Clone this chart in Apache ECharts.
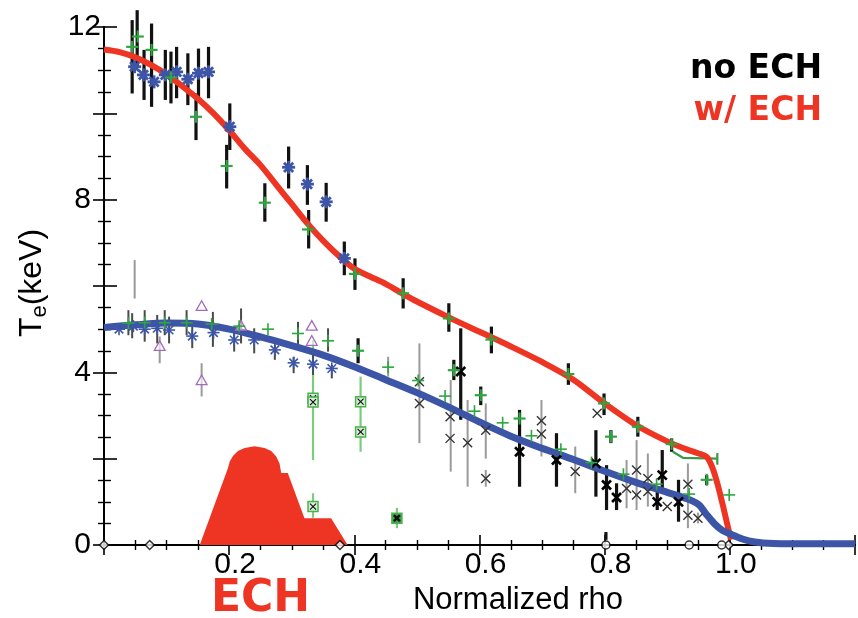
<!DOCTYPE html>
<html><head><meta charset="utf-8">
<script src="https://cdn.jsdelivr.net/npm/echarts@6/dist/echarts.min.js"></script>
<style>html,body{margin:0;padding:0;background:#fff}#c{width:858px;height:618px}</style>
</head><body><div id="c"></div>
<script>
// ---- axis ticks ----
const xTickLabels = [0.2, 0.4, 0.6, 0.8, 1.0];
const yTickLabels = [0, 4, 8, 12];

// ---- model profiles ----
const redCurve = [[0,11.48],[0.025,11.42],[0.05,11.3],[0.075,11.12],[0.1,10.9],[0.125,10.63],[0.15,10.34],[0.175,10.0],[0.2,9.61],[0.225,9.18],[0.25,8.8],[0.275,8.35],[0.3,7.9],[0.325,7.45],[0.35,7.05],[0.375,6.7],[0.4,6.4],[0.425,6.22],[0.45,6.05],[0.475,5.84],[0.5,5.64],[0.55,5.28],[0.6,4.94],[0.65,4.6],[0.7,4.24],[0.75,3.83],[0.8,3.28],[0.85,2.78],[0.9,2.4],[0.93,2.22],[0.95,2.12],[0.963,2.04],[0.972,1.8],[0.98,1.43],[0.99,0.85],[0.998,0.35],[1.002,0.12]];
const blueCurve = [[0,5.04],[0.05,5.1],[0.1,5.14],[0.15,5.12],[0.2,5.0],[0.25,4.82],[0.3,4.62],[0.35,4.4],[0.4,4.13],[0.45,3.83],[0.5,3.53],[0.55,3.2],[0.6,2.85],[0.65,2.52],[0.7,2.24],[0.75,1.98],[0.8,1.71],[0.85,1.45],[0.9,1.22],[0.93,1.08],[0.95,0.94],[0.962,0.72],[0.975,0.5],[0.988,0.34],[1.0,0.26],[1.02,0.14],[1.04,0.07],[1.07,0.035],[1.1,0.03],[1.2,0.03]];
const echProfile = [[0.153,0],[0.198,1.78],[0.2008,1.93],[0.206,2.06],[0.214,2.18],[0.2247,2.25],[0.2406,2.29],[0.2566,2.25],[0.2672,2.18],[0.2752,2.05],[0.2805,1.89],[0.2832,1.67],[0.2937,1.67],[0.3203,0.62],[0.3629,0.62],[0.3893,0]];

// ---- error bars [x, low, high] ----
const ebBlack = [[0.045,10.46,12.16],[0.053,11.08,12.39],[0.064,10.31,11.47],[0.076,10.15,12.08],[0.098,10.31,11.47],[0.107,10.23,11.43],[0.116,10.35,11.54],[0.134,10.19,11.39],[0.151,10.35,11.5],[0.147,9.38,10.46],[0.167,10.35,11.54],[0.201,9.15,10.23],[0.196,8.26,9.27],[0.257,7.49,8.38],[0.295,8.26,9.23],[0.325,7.88,8.8],[0.327,6.87,7.76],[0.355,7.49,8.39],[0.384,6.25,7.03],[0.401,5.91,6.64],[0.478,5.48,6.18],[0.551,4.94,5.6],[0.619,4.44,5.06],[0.742,3.71,4.21],[0.799,3.01,3.51],[0.853,2.51,2.97],[0.907,2.16,2.47],[0.81,2.36,2.66],[0.963,1.39,1.62],[0.406,4.21,4.79],[0.559,3.82,4.29],[0.57,2.9,5.02],[0.602,3.24,3.67],[0.664,1.35,3.13],[0.723,1.35,2.59],[0.786,1.12,2.66],[0.803,0.81,1.85],[0.819,0.81,1.43],[0.884,0.81,1.35],[0.892,1.2,2.2],[0.918,0.54,1.51],[0.802,0.12,0.3]];
const ebDark = [[0.039,4.86,5.44],[0.045,4.79,5.37],[0.065,4.71,5.44],[0.085,4.67,5.33],[0.097,4.86,5.44],[0.104,4.67,5.29],[0.132,4.86,5.44],[0.141,4.56,5.14],[0.174,4.59,5.4],[0.208,4.48,5.06],[0.219,4.67,5.48],[0.24,4.44,5.02],[0.273,4.29,4.63],[0.31,4.63,5.17],[0.303,3.98,4.36],[0.334,3.94,4.44],[0.358,4.48,5.02],[0.364,3.86,4.17]];
const ebGray = [[0.049,5.71,6.6],[0.089,4.21,4.83],[0.156,3.44,4.21],[0.454,3.9,4.36],[0.504,2.36,4.67],[0.554,1.7,3.82],[0.581,1.35,3.36],[0.61,2.0,3.28],[0.61,1.35,1.74],[0.699,2.05,3.36],[0.753,1.2,2.28],[0.835,0.85,1.97],[0.851,0.81,2.43],[0.869,0.89,2.12],[0.933,0.39,1.89],[0.949,0.5,0.75]];
const ebGreen = [[0.334,1.97,4.75],[0.334,0.63,1.2],[0.41,2.16,3.9],[0.468,0.39,0.86]];
const hBarGreen = [[0.909,2.16],[0.925,2.02],[0.98,2.0]];
const hBarCap = [[0.98,1.86,2.13]];

// ---- data markers [x, y] ----
const starsBold = [[0.049,11.08],[0.063,10.89],[0.08,10.73],[0.098,10.89],[0.116,10.96],[0.134,10.79],[0.151,10.93],[0.167,10.96],[0.201,9.69],[0.295,8.75],[0.325,8.36],[0.355,7.95],[0.384,6.64]];
const starsThin = [[0.024,5.0],[0.047,5.07],[0.065,5.0],[0.085,5.02],[0.104,4.98],[0.141,4.84],[0.175,4.92],[0.208,4.75],[0.24,4.75],[0.273,4.52],[0.303,4.22],[0.334,4.19],[0.364,4.09]];
const plusBold = [[0.045,11.54],[0.054,11.78],[0.076,11.47],[0.107,10.83],[0.147,9.92],[0.196,8.78],[0.257,7.93],[0.326,7.31],[0.401,6.28],[0.478,5.83],[0.551,5.25],[0.619,4.76],[0.742,3.96],[0.799,3.28],[0.853,2.74],[0.907,2.34],[0.81,2.51],[0.963,1.51],[0.406,4.5],[0.559,4.05],[0.602,3.47],[0.664,2.93]];
const plusThin = [[0.039,5.14],[0.065,5.15],[0.097,5.15],[0.132,5.15],[0.172,5.12],[0.216,5.07],[0.262,5.0],[0.31,4.9],[0.358,4.73],[0.454,4.12],[0.502,3.81],[0.545,3.45],[0.592,3.1],[0.637,2.83],[0.683,2.53],[0.73,2.22],[0.779,1.91],[0.83,1.64],[0.883,1.41],[0.935,1.18],[0.999,1.16]];
const triangles = [[0.156,5.52],[0.089,4.59],[0.156,3.8],[0.219,5.06],[0.332,5.06],[0.332,4.71]];
const xBold = [[0.57,4.02],[0.664,2.16],[0.723,1.97],[0.786,1.89],[0.803,1.39],[0.819,1.1],[0.892,1.62],[0.918,1.0],[0.884,1.0]];
const xThin = [[0.504,3.78],[0.504,3.28],[0.553,2.97],[0.553,2.47],[0.581,2.37],[0.61,2.66],[0.61,1.54],[0.699,2.88],[0.699,2.57],[0.753,1.7],[0.788,3.05],[0.835,1.31],[0.851,1.74],[0.851,1.16],[0.869,1.54],[0.869,1.24],[0.9,0.89],[0.933,1.41],[0.933,0.69],[0.949,0.62]];
const boxes = [[0.334,3.4],[0.334,3.31],[0.41,3.32],[0.41,2.62],[0.334,0.89]];
const boxesBold = [[0.468,0.62]];
const axisDiamonds = [[0,0],[0.073,0],[0.377,0],[0.998,0]];
const axisCircles = [[0.802,0],[0.935,0],[0.987,0]];

const RED = '#ee3524', BLUE = '#3d55a6', GREEN = '#2ea640', PURPLE = '#a56bbb';

function ln(x1,y1,x2,y2,stroke,lw){return {type:'line',shape:{x1,y1,x2,y2},style:{stroke,lineWidth:lw}};}
function errSeries(data,color,lw,z){
  return {type:'custom',data,z,silent:true,encode:{x:0,y:[1,2]},renderItem:(p,api)=>{
    const a=api.coord([api.value(0),api.value(1)]), b=api.coord([api.value(0),api.value(2)]);
    return ln(a[0],a[1],b[0],b[1],color,lw);}};
}
function markSeries(data,kind,color,r,lw,z){
  return {type:'custom',data,z,silent:true,encode:{x:0,y:1},renderItem:(p,api)=>{
    const c=api.coord([api.value(0),api.value(1)]), x=c[0], y=c[1];
    const d=r*0.7071; let ch=[];
    if(kind==='star'){ch=[ln(x,y-r,x,y+r,color,lw),ln(x-r,y,x+r,y,color,lw),ln(x-d,y-d,x+d,y+d,color,lw),ln(x-d,y+d,x+d,y-d,color,lw)];}
    else if(kind==='plus'){ch=[ln(x,y-r,x,y+r,color,lw),ln(x-r,y,x+r,y,color,lw)];}
    else if(kind==='x'){ch=[ln(x-r,y-r,x+r,y+r,color,lw),ln(x-r,y+r,x+r,y-r,color,lw)];}
    else if(kind==='tri'){ch=[{type:'polygon',shape:{points:[[x,y-r],[x+r*0.9,y+r*0.6],[x-r*0.9,y+r*0.6]]},style:{fill:'rgba(255,255,255,0.6)',stroke:color,lineWidth:lw}}];}
    else if(kind==='box'||kind==='boxb'){
      ch=[{type:'rect',shape:{x:x-r,y:y-r,width:2*r,height:2*r},style:{fill:kind==='box'?'#d3efd3':'#3fa34d',stroke:'#4caf50',lineWidth:1.5}},
          ln(x-r*0.6,y-r*0.6,x+r*0.6,y+r*0.6,'#111',kind==='box'?1.2:2.5),ln(x-r*0.6,y+r*0.6,x+r*0.6,y-r*0.6,'#111',kind==='box'?1.2:2.5)];}
    return {type:'group',children:ch};}};
}

const labelFont = 'Liberation Sans, Arial, sans-serif';
const axisBase = {type:'value',splitLine:{show:false},
  axisLine:{lineStyle:{color:'#000',width:2}},
  axisTick:{inside:true,length:10,lineStyle:{color:'#000',width:1.6}},
  minorTick:{show:true,splitNumber:4,length:5,lineStyle:{color:'#000',width:1.4}}};

const option = {
  animation:false,
  backgroundColor:'#fff',
  grid:{left:104,top:27,width:753,height:518},
  xAxis:[
    Object.assign({},axisBase,{min:0,max:1.2,interval:0.2,position:'bottom',
      axisLabel:{margin:5,fontSize:30,fontFamily:labelFont,color:'#000',padding:[0,0,0,12],
        formatter:v=>xTickLabels.some(t=>Math.abs(t-v)<1e-6)?v.toFixed(1):''}}),
    Object.assign({},axisBase,{min:0,max:1.2,interval:0.2,position:'top',axisLabel:{show:false}})
  ],
  yAxis:[
    Object.assign({},axisBase,{min:0,max:12,interval:2,position:'left',
      axisTick:{inside:true,length:13,lineStyle:{color:'#000',width:1.6}},
      minorTick:{show:true,splitNumber:4,length:7,lineStyle:{color:'#000',width:1.4}},
      axisLabel:{margin:3,fontSize:30,fontFamily:labelFont,color:'#000',
        formatter:v=>yTickLabels.indexOf(v)<0?'':(v===12?'12':'{p|'+v+'}'),
        rich:{p:{padding:[0,10,0,0],fontSize:30,fontFamily:labelFont,color:'#000'}}}}),
    Object.assign({},axisBase,{min:0,max:12,interval:2,position:'right',
      axisTick:{inside:true,length:11,lineStyle:{color:'#000',width:1.6}},
      minorTick:{show:true,splitNumber:4,length:6,lineStyle:{color:'#000',width:1.4}},
      axisLabel:{show:false}})
  ],
  series:[
    {type:'line',data:echProfile,symbol:'none',z:1,silent:true,lineStyle:{width:0},areaStyle:{color:RED,opacity:1}},
    errSeries(ebGray,'#9a9a9a',2,2),
    errSeries(ebGreen,'#7dcc7d',2.2,2),
    errSeries(ebDark,'#4a4a4a',2,2),
    errSeries(ebBlack,'#111',3.2,2),
    {type:'line',data:hBarGreen,symbol:'none',z:2,lineStyle:{color:'#3a9a46',width:2.2}},
    errSeries(hBarCap,'#3a9a46',2.2,2),
    {type:'line',data:redCurve,symbol:'none',smooth:0.3,z:3,lineStyle:{color:RED,width:6}},
    {type:'line',data:blueCurve,symbol:'none',smooth:0.3,z:3,lineStyle:{color:BLUE,width:7}},
    markSeries(triangles,'tri',PURPLE,6,1.3,4),
    markSeries(boxes,'box','#4caf50',5,1.5,4),
    markSeries(boxesBold,'boxb','#4caf50',5,1.5,4),
    markSeries(xThin,'x','#333',4.5,1.4,4),
    markSeries(xBold,'x','#000',4.5,2.6,4),
    markSeries(starsThin,'star',BLUE,6,1.6,5),
    markSeries(starsBold,'star',BLUE,6.5,2.8,5),
    markSeries(plusThin,'plus',GREEN,6,1.6,5),
    markSeries(plusBold,'plus',GREEN,6,2.2,5),
    {type:'scatter',data:axisDiamonds,symbol:'diamond',symbolSize:9,z:6,itemStyle:{color:'#fff',borderColor:'#000',borderWidth:1.5}},
    {type:'scatter',data:axisCircles,symbol:'circle',symbolSize:8,z:6,itemStyle:{color:'#fff',borderColor:'#000',borderWidth:1.5}}
  ],
  graphic:[
    {type:'text',x:822,y:69,z:10,style:{text:'no ECH',fill:'#000',font:'bold 33px "DejaVu Sans"',textAlign:'right',textVerticalAlign:'middle'}},
    {type:'text',x:822,y:111,z:10,style:{text:'w/ ECH',fill:RED,font:'bold 33px "DejaVu Sans"',textAlign:'right',textVerticalAlign:'middle'}},
    {type:'text',x:211,y:600,z:10,style:{text:'ECH',fill:RED,font:'bold 44px "DejaVu Sans"',textAlign:'left',textVerticalAlign:'middle'}},
    {type:'text',x:518,y:600,z:10,style:{text:'Normalized rho',fill:'#000',font:'31px "Liberation Sans"',textAlign:'center',textVerticalAlign:'middle'}},
    {type:'text',x:32,y:283,rotation:Math.PI/2,z:10,style:{text:'{a|T}{b|e}{a|(keV)}',textAlign:'center',textVerticalAlign:'middle',
      rich:{a:{fontSize:32,fontFamily:'Liberation Sans',fill:'#000',color:'#000',lineHeight:34},
            b:{fontSize:22,fontFamily:'Liberation Sans',fill:'#000',color:'#000',lineHeight:22,padding:[16,0,0,0]}}}}
  ]
};
const chart = echarts.init(document.getElementById('c'),null,{renderer:'canvas'});
chart.setOption(option);
</script></body></html>
